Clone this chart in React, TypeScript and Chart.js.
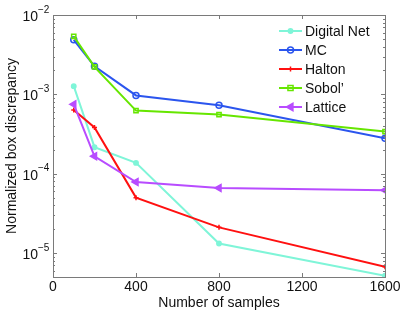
import React, { useEffect, useRef } from "react";
import { Chart, registerables } from "chart.js";

Chart.register(...registerables);

const samples = [100, 200, 400, 800, 1600];
const digitalNet = [1.27e-3, 2.16e-4, 1.37e-4, 1.32e-5, 5.2e-6];
const mc = [4.87e-3, 2.26e-3, 9.7e-4, 7.3e-4, 2.8e-4];
const halton = [6.37e-4, 3.83e-4, 5.0e-5, 2.11e-5, 6.75e-6];
const sobol = [5.37e-3, 2.22e-3, 6.25e-4, 5.57e-4, 3.4e-4];
const lattice = [7.5e-4, 1.66e-4, 7.87e-5, 6.62e-5, 6.2e-5];

const xTicks = [0, 400, 800, 1200, 1600];
const yDecades = [-2, -3, -4, -5];
const seriesNames = ["Digital Net", "MC", "Halton", "Sobol\u2019", "Lattice"];

const FONT = "'Liberation Sans', Arial, Helvetica, sans-serif";

type MarkerSpec = { style: string; radius: number; rotation: number; fill: boolean };

const colors = ["#7ff5d8", "#2b55ee", "#ff1010", "#66e600", "#b84cff"];
const markers: MarkerSpec[] = [
  { style: "circle", radius: 2.2, rotation: 0, fill: true },
  { style: "circle", radius: 3, rotation: 0, fill: false },
  { style: "cross", radius: 2.5, rotation: 0, fill: false },
  { style: "rect", radius: 3, rotation: 0, fill: false },
  { style: "triangle", radius: 4, rotation: -90, fill: true },
];
const seriesData = [digitalNet, mc, halton, sobol, lattice];

function drawMarker(ctx: CanvasRenderingContext2D, m: MarkerSpec, color: string, x: number, y: number) {
  ctx.save();
  ctx.strokeStyle = color;
  ctx.fillStyle = color;
  ctx.lineWidth = 1.5;
  ctx.beginPath();
  const r = m.radius;
  if (m.style === "circle") {
    ctx.arc(x, y, r, 0, Math.PI * 2);
    if (m.fill) ctx.fill();
    ctx.stroke();
  } else if (m.style === "rect") {
    ctx.rect(x - r * 0.85, y - r * 0.85, r * 1.7, r * 1.7);
    ctx.stroke();
  } else if (m.style === "cross") {
    ctx.moveTo(x - r, y);
    ctx.lineTo(x + r, y);
    ctx.moveTo(x, y - r);
    ctx.lineTo(x, y + r);
    ctx.stroke();
  } else if (m.style === "triangle") {
    ctx.moveTo(x - r, y);
    ctx.lineTo(x + r * 0.6, y - r * 0.9);
    ctx.lineTo(x + r * 0.6, y + r * 0.9);
    ctx.closePath();
    ctx.fill();
    ctx.stroke();
  }
  ctx.restore();
}

const decorPlugin = {
  id: "decor",
  afterDraw(chart: any) {
    const ctx: CanvasRenderingContext2D = chart.ctx;
    const { left, right, top, bottom } = chart.chartArea;
    const xs = chart.scales.x;
    const ys = chart.scales.y;
    ctx.save();
    ctx.strokeStyle = "#7a7a7a";
    ctx.lineWidth = 1;
    ctx.strokeRect(Math.round(left) + 0.5, Math.round(top) + 0.5, Math.round(right - left), Math.round(bottom - top));
    ctx.beginPath();
    for (const t of xTicks) {
      const px = Math.round(xs.getPixelForValue(t)) + 0.5;
      ctx.moveTo(px, bottom);
      ctx.lineTo(px, bottom - 4);
      ctx.moveTo(px, top);
      ctx.lineTo(px, top + 4);
    }
    for (const d of yDecades.concat([-6])) {
      for (let k = 1; k <= 9; k++) {
        const v = k * Math.pow(10, d);
        if (v < ys.min - 1e-12 || v > ys.max + 1e-12) continue;
        const py = Math.round(ys.getPixelForValue(v)) + 0.5;
        const len = k === 1 ? 4 : 2;
        ctx.moveTo(left, py);
        ctx.lineTo(left + len, py);
        ctx.moveTo(right, py);
        ctx.lineTo(right - len, py);
      }
    }
    ctx.stroke();

    ctx.fillStyle = "#111";
    ctx.font = `14px ${FONT}`;
    ctx.textAlign = "center";
    ctx.textBaseline = "middle";
    for (const t of xTicks) {
      ctx.fillText(String(t), xs.getPixelForValue(t), bottom + 10);
    }
    for (const d of yDecades) {
      const py = ys.getPixelForValue(Math.pow(10, d));
      ctx.font = `14px ${FONT}`;
      ctx.textAlign = "right";
      ctx.fillText("10", 38, py + 2);
      ctx.font = `10px ${FONT}`;
      ctx.textAlign = "left";
      ctx.fillText("\u2212" + String(-d), 38, py - 5);
    }
    ctx.font = `14px ${FONT}`;
    ctx.textAlign = "center";
    ctx.fillText("Number of samples", (left + right) / 2, bottom + 26);
    ctx.save();
    ctx.translate(12, (top + bottom) / 2);
    ctx.rotate(-Math.PI / 2);
    ctx.fillText("Normalized box discrepancy", 0, 0);
    ctx.restore();

    const lx0 = right - 106;
    const lx1 = lx0 + 23;
    const ly0 = top + 16;
    for (let i = 0; i < seriesNames.length; i++) {
      const y = ly0 + i * 19;
      ctx.strokeStyle = colors[i];
      ctx.lineWidth = 2;
      ctx.beginPath();
      ctx.moveTo(lx0, y);
      ctx.lineTo(lx1, y);
      ctx.stroke();
      drawMarker(ctx, markers[i], colors[i], (lx0 + lx1) / 2, y);
      ctx.fillStyle = "#111";
      ctx.font = `14px ${FONT}`;
      ctx.textAlign = "left";
      ctx.textBaseline = "middle";
      ctx.fillText(seriesNames[i], lx1 + 3, y + 1);
    }
    ctx.restore();
  },
};

export default function App() {
  const ref = useRef<HTMLCanvasElement | null>(null);
  useEffect(() => {
    document.body.style.margin = "0";
    if (!ref.current) return;
    const datasets = seriesNames.map((name, i) => ({
      label: name,
      data: samples.map((s, j) => ({ x: s, y: seriesData[i][j] })),
      borderColor: colors[i],
      backgroundColor: markers[i].fill ? colors[i] : "rgba(0,0,0,0)",
      pointBorderColor: colors[i],
      pointBackgroundColor: markers[i].fill ? colors[i] : "rgba(0,0,0,0)",
      pointStyle: markers[i].style,
      pointRadius: markers[i].radius,
      pointRotation: markers[i].rotation,
      pointBorderWidth: 1.5,
      borderWidth: 2,
      tension: 0,
      fill: false,
      order: seriesNames.length - i,
    }));
    const chart = new Chart(ref.current, {
      type: "line",
      data: { datasets },
      options: {
        animation: false,
        responsive: false,
        maintainAspectRatio: false,
        layout: { padding: { left: 53, right: 20, top: 15, bottom: 36 } },
        plugins: { legend: { display: false }, tooltip: { enabled: false } },
        scales: {
          x: { type: "linear", min: 0, max: 1600, display: false },
          y: { type: "logarithmic", min: 5e-6, max: 1e-2, display: false },
        },
      },
      plugins: [decorPlugin],
    } as any);
    return () => chart.destroy();
  }, []);
  return (
    <div style={{ position: "fixed", left: 0, top: 0, width: 405, height: 313, background: "#fff" }}>
      <canvas ref={ref} width={405} height={313} style={{ width: 405, height: 313 }} />
    </div>
  );
}
